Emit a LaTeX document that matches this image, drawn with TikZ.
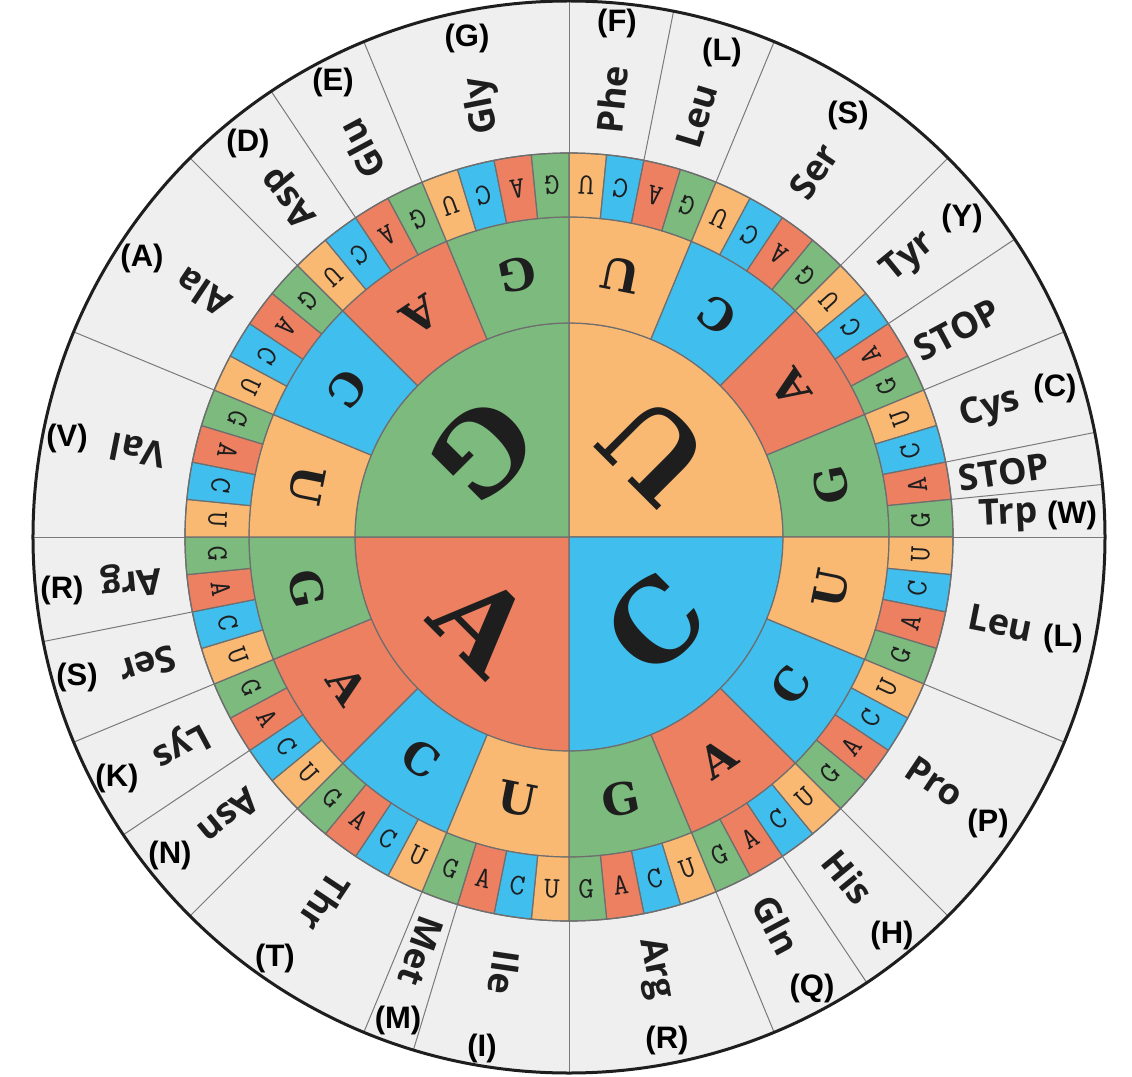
\documentclass[tikz,border=0pt]{standalone}
\usepackage{fontspec}
\newfontfamily\namefont{Open Sans}
\newfontfamily\lblfont{Liberation Sans}
\newfontfamily\slabfont{DejaVu Serif}
\definecolor{colU}{HTML}{FAB973}
\definecolor{colC}{HTML}{40BEED}
\definecolor{colA}{HTML}{EE8062}
\definecolor{colG}{HTML}{7CBA7E}
\definecolor{ringbg}{HTML}{EFEFEF}
\definecolor{ringline}{HTML}{6E6E6E}
\definecolor{sepcol}{HTML}{7A7A7A}
\definecolor{inkcol}{HTML}{1E1E1E}
\def\baselist{0/colU/U,1/colC/C,2/colA/A,3/colG/G}
\begin{document}
\begin{tikzpicture}[
  seg/.style={draw=ringline, line width=1.2pt},
  sepline/.style={draw=sepcol, line width=1pt},
  bigbase/.style={font=\slabfont\bfseries\fontsize{110}{110}\selectfont, text=inkcol, inner sep=0pt},
  midbase/.style={font=\slabfont\bfseries\fontsize{44}{44}\selectfont, text=inkcol, inner sep=0pt},
  smallbase/.style={font=\ttfamily\fontsize{30}{30}\selectfont\addfontfeature{FakeBold=1}, text=inkcol, inner sep=0pt},
  aaname/.style={font=\namefont\bfseries\fontsize{36}{36}\selectfont, text=inkcol, inner sep=0pt},
  aalbl/.style={font=\lblfont\bfseries\fontsize{31}{31}\selectfont, text=black, inner sep=0pt}
]
\useasboundingbox (-569pt,-539pt) rectangle (563pt,537pt);
\fill[white] (-569pt,-539pt) rectangle (563pt,537pt);
% outer ring background
\fill[ringbg] (0,0) circle[radius=536pt];
% rings
\foreach \q/\qc/\ql in \baselist {
  \pgfmathsetmacro\qs{90-90*\q}
  \pgfmathsetmacro\qe{\qs-90}
  \pgfmathsetmacro\qm{\qs-45}
  \filldraw[seg, fill=\qc] (0,0) -- (\qs:214pt) arc[start angle=\qs, end angle=\qe, radius=214pt] -- cycle;
  \node[bigbase, rotate=\qm+90] (big\q) at (\qm:122pt) {\ql};
  \foreach \j/\jc/\jl in \baselist {
    \pgfmathsetmacro\js{\qs-22.5*\j}
    \pgfmathsetmacro\je{\js-22.5}
    \pgfmathsetmacro\jm{\js-11.25}
    \filldraw[seg, fill=\jc] (\js:214pt) arc[start angle=\js, end angle=\je, radius=214pt] -- (\je:320pt) arc[start angle=\je, end angle=\js, radius=320pt] -- cycle;
    \node[midbase, rotate=\jm+90] (mid\q\j) at (\jm:267pt) {\jl};
    \foreach \k/\kc/\kl in \baselist {
      \pgfmathsetmacro\ks{\js-5.625*\k}
      \pgfmathsetmacro\ke{\ks-5.625}
      \pgfmathsetmacro\km{\ks-2.8125}
      \filldraw[seg, fill=\kc] (\ks:320pt) arc[start angle=\ks, end angle=\ke, radius=320pt] -- (\ke:384pt) arc[start angle=\ke, end angle=\ks, radius=384pt] -- cycle;
      \node[smallbase, rotate=\km+90] (sm\q\j\k) at (\km:352pt) {\kl};
    }
  }
}
% separators in outer ring
\foreach \a in {90,78.75,67.5,45,33.75,22.5,11.25,5.625,0,-22.5,-45,-56.25,-67.5,-90,-106.875,-112.5,-135,-146.25,-157.5,-168.75,-180,157.5,135,123.75,112.5} {
  \draw[sepline] (\a:384pt) -- (\a:536pt);
}
\draw[ringline, line width=1.2pt] (0,0) circle[radius=384pt];
\draw[inkcol, line width=3pt] (0,0) circle[radius=536pt];
% amino acid names
\foreach \n/\a/\t in {n1/84.375/Phe, n2/73.125/Leu, n3/56.25/Ser, n4/39.375/Tyr, n5/28.125/STOP, n6/16.875/Cys, n7/8.4375/STOP, n8/2.8125/Trp, n9/-11.25/Leu, n10/-33.75/Pro, n11/-50.625/His, n12/-61.875/Gln, n13/-78.75/Arg, n14/-98.4375/Ile, n15/-109.6875/Met, n16/-123.75/Thr, n17/-140.625/Asn, n18/-151.875/Lys, n19/-163.125/Ser, n20/-174.375/Arg, n21/168.75/Val, n22/146.25/Ala, n23/129.375/Asp, n24/118.125/Glu, n25/101.25/Gly} {
  \node[aaname, rotate=\a] (\n) at (\a:440pt) {\t};
}
% one-letter labels (pixel offsets from the centre)
\foreach \n/\x/\y/\t in {l1/48/514/F, l2/153/485/L, l3/279/422/S, l4/393/319/Y, l5/486/149/C, l6/503/22/W, l7/494/-101/L, l8/419/-286/P, l9/323/-398/H, l10/243/-451/Q, l11/98/-503/R, l12/-87/-511/I, l13/-171/-483/M, l14/-294/-421/T, l15/-399/-318/N, l16/-452/-241/K, l17/-492/-140/S, l18/-507/-53/R, l19/-502/99/V, l20/-427/279/A, l21/-321/394/D, l22/-236/455/E, l23/-102/499/G} {
  \node[aalbl] (\n) at (\x pt,\y pt) {(\t)};
}
\end{tikzpicture}
\end{document}
